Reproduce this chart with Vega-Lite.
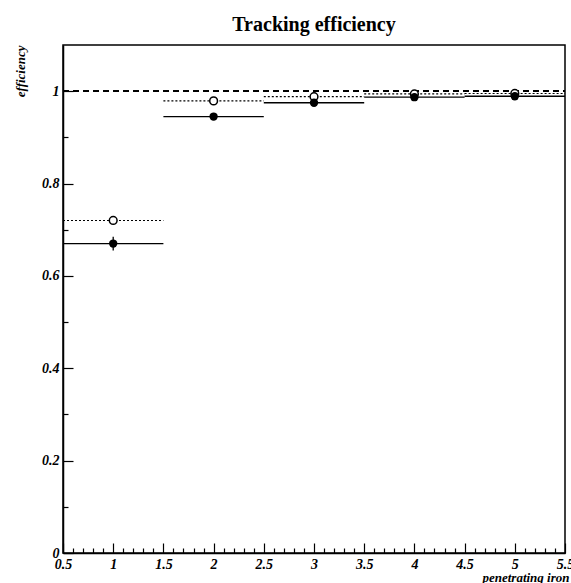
{
  "$schema": "https://vega.github.io/schema/vega-lite/v6.json",
  "autosize": "none",
  "width": 502,
  "height": 508,
  "padding": {"left": 63, "top": 45, "right": 6, "bottom": 30},
  "background": "white",
  "title": {
    "text": "Tracking efficiency",
    "font": "Liberation Serif",
    "fontSize": 20,
    "fontWeight": "bold",
    "color": "black",
    "anchor": "middle",
    "baseline": "alphabetic",
    "offset": -6
  },
  "config": {
    "view": {"stroke": "black", "strokeWidth": 1.5},
    "axis": {"grid": false, "domainColor": "black", "domainWidth": 1.5, "tickColor": "black", "tickWidth": 1.2,
      "labelFont": "Liberation Serif", "labelFontStyle": "italic", "labelFontWeight": "bold", "labelFontSize": 14, "labelColor": "black",
      "titleFont": "Liberation Serif", "titleFontStyle": "italic", "titleFontWeight": "bold", "titleFontSize": 13, "titleColor": "black"}
  },
  "data": {
    "values": [
      {"x": 1, "xlo": 0.5, "xhi": 1.5, "eff": 0.67, "lo": 0.655, "hi": 0.685, "series": "filled"},
      {"x": 2, "xlo": 1.5, "xhi": 2.5, "eff": 0.945, "lo": 0.94, "hi": 0.95, "series": "filled"},
      {"x": 3, "xlo": 2.5, "xhi": 3.5, "eff": 0.975, "lo": 0.972, "hi": 0.978, "series": "filled"},
      {"x": 4, "xlo": 3.5, "xhi": 4.5, "eff": 0.987, "lo": 0.985, "hi": 0.989, "series": "filled"},
      {"x": 5, "xlo": 4.5, "xhi": 5.5, "eff": 0.989, "lo": 0.987, "hi": 0.991, "series": "filled"},
      {"x": 1, "xlo": 0.5, "xhi": 1.5, "eff": 0.72, "lo": 0.715, "hi": 0.725, "series": "open"},
      {"x": 2, "xlo": 1.5, "xhi": 2.5, "eff": 0.979, "lo": 0.977, "hi": 0.981, "series": "open"},
      {"x": 3, "xlo": 2.5, "xhi": 3.5, "eff": 0.988, "lo": 0.986, "hi": 0.99, "series": "open"},
      {"x": 4, "xlo": 3.5, "xhi": 4.5, "eff": 0.994, "lo": 0.993, "hi": 0.995, "series": "open"},
      {"x": 5, "xlo": 4.5, "xhi": 5.5, "eff": 0.995, "lo": 0.994, "hi": 0.996, "series": "open"}
    ]
  },
  "encoding": {
    "x": {"field": "x", "type": "quantitative",
      "scale": {"domain": [0.5, 5.5], "nice": false, "zero": false},
      "axis": {
        "title": "penetrating iron",
        "titleAnchor": "end",
        "titleAlign": "right",
        "titleBaseline": "alphabetic",
        "titleY": 28,
        "titleX": 506,
        "format": "~g",
        "values": [0.5,0.6,0.7,0.8,0.9,1,1.1,1.2,1.3,1.4,1.5,1.6,1.7,1.8,1.9,2,2.1,2.2,2.3,2.4,2.5,2.6,2.7,2.8,2.9,3,3.1,3.2,3.3,3.4,3.5,3.6,3.7,3.8,3.9,4,4.1,4.2,4.3,4.4,4.5,4.6,4.7,4.8,4.9,5,5.1,5.2,5.3,5.4,5.5],
        "tickSize": {"condition": {"test": "abs(datum.value*2 - round(datum.value*2)) < 0.001", "value": -10}, "value": -5},
        "labelExpr": "abs(datum.value*2 - round(datum.value*2)) < 0.001 ? datum.label : ''",
        "labelPadding": 14,
        "labelOverlap": false,
        "labelFlush": false
      }
    }
  },
  "layer": [
    {
      "mark": {"type": "rule", "strokeDash": [6, 4], "strokeWidth": 1.2, "color": "black"},
      "encoding": {"y": {"datum": 1}, "x": {"datum": 0.5}, "x2": {"datum": 5.5}}
    },
    {
      "transform": [{"filter": "datum.series === 'open'"}],
      "mark": {"type": "rule", "strokeDash": [2, 2], "strokeWidth": 1.2, "color": "black"},
      "encoding": {"x": {"field": "xlo", "type": "quantitative"}, "x2": {"field": "xhi"}, "y": {"field": "eff", "type": "quantitative"}}
    },
    {
      "transform": [{"filter": "datum.series === 'filled'"}],
      "mark": {"type": "rule", "strokeWidth": 1.3, "color": "black"},
      "encoding": {"x": {"field": "xlo", "type": "quantitative"}, "x2": {"field": "xhi"}, "y": {"field": "eff", "type": "quantitative"}}
    },
    {
      "mark": {"type": "rule", "strokeWidth": 1.3, "color": "black"},
      "encoding": {"y": {"field": "lo", "type": "quantitative"}, "y2": {"field": "hi"}}
    },
    {
      "transform": [{"filter": "datum.series === 'open'"}],
      "mark": {"type": "point", "shape": "circle", "size": 60, "filled": false, "fill": "white", "fillOpacity": 1, "stroke": "black", "strokeWidth": 1.5, "opacity": 1},
      "encoding": {"y": {"field": "eff", "type": "quantitative"}}
    },
    {
      "transform": [{"filter": "datum.series === 'filled'"}],
      "mark": {"type": "point", "shape": "circle", "size": 70, "filled": true, "color": "black", "opacity": 1},
      "encoding": {
        "y": {"field": "eff", "type": "quantitative",
          "scale": {"domain": [0, 1.1], "nice": false, "zero": true},
          "axis": {
            "title": "efficiency",
            "titleAnchor": "end",
            "titleAngle": -90,
            "titleAlign": "right",
            "titleBaseline": "alphabetic",
            "titleX": -39,
            "titleY": 0,
            "format": "~g",
            "values": [0,0.05,0.1,0.15,0.2,0.25,0.3,0.35,0.4,0.45,0.5,0.55,0.6,0.65,0.7,0.75,0.8,0.85,0.9,0.95,1,1.05],
            "tickSize": {"condition": {"test": "abs(datum.value*5 - round(datum.value*5)) < 0.001", "value": -10}, "value": -5},
            "labelExpr": "abs(datum.value*5 - round(datum.value*5)) < 0.001 ? datum.label : ''",
            "labelPadding": 14,
            "labelOverlap": false,
            "labelFlush": false
          }
        }
      }
    }
  ]
}
